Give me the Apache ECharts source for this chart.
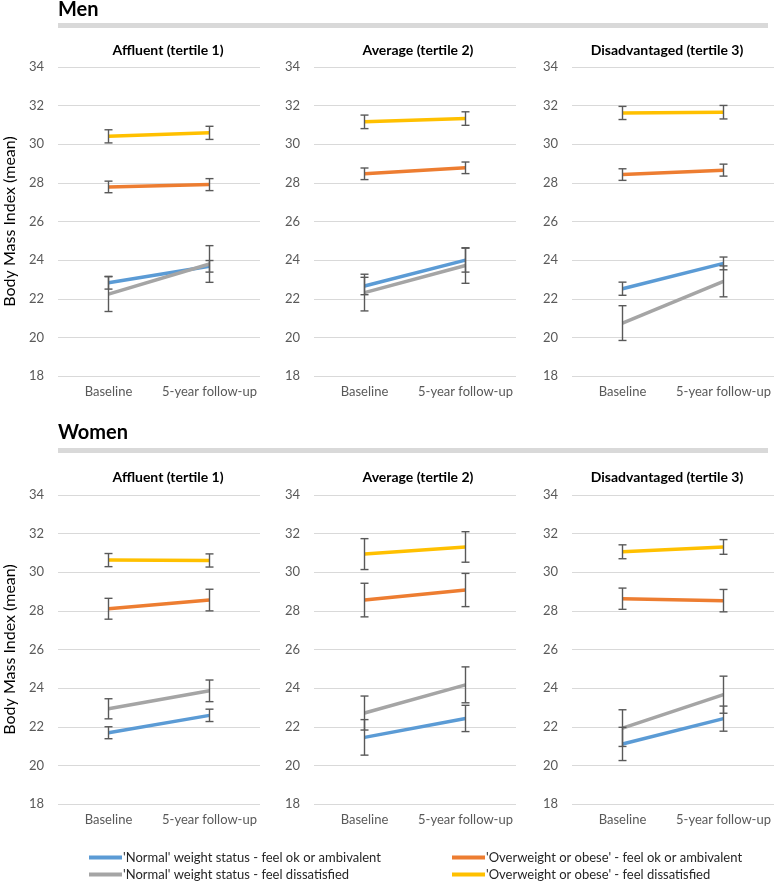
<!DOCTYPE html>
<html>
<head>
<meta charset="utf-8">
<script src="https://cdn.jsdelivr.net/npm/echarts@6/dist/echarts.min.js"></script>
<style>
  html, body { margin: 0; padding: 0; background: #fff; }
  #chart { width: 778px; height: 885px; }
</style>
</head>
<body>
<div id="chart"></div>
<script>
// ---- Data ----
const categories = ['Baseline', '5-year follow-up'];
const panelTitles = ['Affluent (tertile 1)', 'Average (tertile 2)', 'Disadvantaged (tertile 3)'];
const rowTitles = ['Men', 'Women'];
const seriesNames = [
  "'Normal' weight status - feel ok or ambivalent",
  "'Normal' weight status - feel dissatisfied",
  "'Overweight or obese' - feel ok or ambivalent",
  "'Overweight or obese' - feel dissatisfied"
];
const yTicks = [18, 20, 22, 24, 26, 28, 30, 32, 34];

// Men: per panel [baseline, follow-up]
const menNormalOk      = [[22.83, 23.68], [22.66, 24.00], [22.52, 23.83]];
const menNormalOkErr   = [[0.33, 0.30], [0.45, 0.62], [0.34, 0.33]];
const menNormalDis     = [[22.24, 23.80], [22.32, 23.72], [20.74, 22.90]];
const menNormalDisErr  = [[0.90, 0.95], [0.95, 0.92], [0.90, 0.80]];
const menOverOk        = [[27.79, 27.91], [28.47, 28.78], [28.43, 28.66]];
const menOverOkErr     = [[0.30, 0.31], [0.30, 0.30], [0.30, 0.31]];
const menOverDis       = [[30.41, 30.59], [31.16, 31.33], [31.62, 31.66]];
const menOverDisErr    = [[0.34, 0.34], [0.35, 0.35], [0.34, 0.35]];

// Women
const womenNormalOk     = [[21.69, 22.59], [21.45, 22.43], [21.11, 22.42]];
const womenNormalOkErr  = [[0.31, 0.32], [0.92, 0.68], [0.86, 0.65]];
const womenNormalDis    = [[22.93, 23.86], [22.71, 24.17], [21.93, 23.66]];
const womenNormalDisErr = [[0.52, 0.56], [0.88, 0.93], [0.95, 0.96]];
const womenOverOk       = [[28.11, 28.56], [28.56, 29.08], [28.63, 28.53]];
const womenOverOkErr    = [[0.54, 0.56], [0.87, 0.86], [0.55, 0.58]];
const womenOverDis      = [[30.63, 30.61], [30.94, 31.31], [31.06, 31.31]];
const womenOverDisErr   = [[0.34, 0.34], [0.80, 0.79], [0.36, 0.38]];

// ---- Layout / style ----
const colors = ['#5B9BD5', '#A5A5A5', '#ED7D31', '#FFC000'];
const FONT = 'Lato, "Open Sans", sans-serif';
const gridLefts = [58, 314, 572];
const gridWidth = 202;
const rowTops = [67, 495];
const gridHeight = 309;
const subtitleCenters = [168, 418, 667];

const rows = [
  { vals: [menNormalOk, menNormalDis, menOverOk, menOverDis],
    errs: [menNormalOkErr, menNormalDisErr, menOverOkErr, menOverDisErr] },
  { vals: [womenNormalOk, womenNormalDis, womenOverOk, womenOverDis],
    errs: [womenNormalOkErr, womenNormalDisErr, womenOverOkErr, womenOverDisErr] }
];

const grids = [], xAxes = [], yAxes = [], series = [], graphics = [];

function errorBarRender(params, api) {
  const xi = api.value(0);
  const lo = api.coord([xi, api.value(1)]);
  const hi = api.coord([xi, api.value(2)]);
  const cap = 4;
  const st = { stroke: '#595959', lineWidth: 1.4 };
  return {
    type: 'group',
    children: [
      { type: 'line', shape: { x1: lo[0], y1: lo[1], x2: hi[0], y2: hi[1] }, style: st },
      { type: 'line', shape: { x1: lo[0] - cap, y1: lo[1], x2: lo[0] + cap, y2: lo[1] }, style: st },
      { type: 'line', shape: { x1: hi[0] - cap, y1: hi[1], x2: hi[0] + cap, y2: hi[1] }, style: st }
    ]
  };
}

let gi = 0;
rows.forEach((row, r) => {
  graphics.push({
    type: 'text', left: 58, top: r === 0 ? 0 : 423,
    style: { text: rowTitles[r], font: 'bold 20px ' + FONT, fill: '#000' }
  });
  graphics.push({
    type: 'rect', shape: { x: 58, y: r === 0 ? 23 : 448, width: 710, height: 5 },
    style: { fill: '#d9d9d9' }
  });
  for (let p = 0; p < 3; p++) {
    graphics.push({
      type: 'text', x: subtitleCenters[p], y: r === 0 ? 50 : 477,
      style: { text: panelTitles[p], font: 'bold 14px ' + FONT, fill: '#000',
               align: 'center', verticalAlign: 'middle', textAlign: 'center', textVerticalAlign: 'middle' }
    });
    grids.push({ left: gridLefts[p], top: rowTops[r], width: gridWidth, height: gridHeight });
    xAxes.push({
      type: 'category', gridIndex: gi, data: categories, boundaryGap: true,
      axisLine: { show: false }, axisTick: { show: false },
      axisLabel: { color: '#595959', fontSize: 13, fontFamily: FONT, margin: 9, interval: 0 }
    });
    yAxes.push({
      type: 'value', gridIndex: gi, min: yTicks[0], max: yTicks[yTicks.length - 1], interval: 2,
      axisLine: { show: false }, axisTick: { show: false },
      axisLabel: { color: '#595959', fontSize: 13, fontFamily: FONT, margin: 14 },
      splitLine: { show: true, lineStyle: { color: '#d9d9d9', width: 1 } },
      name: p === 0 ? 'Body Mass Index (mean)' : '',
      nameLocation: 'middle', nameGap: 40, nameRotate: 90,
      nameTextStyle: { color: '#000', fontSize: 16, fontFamily: FONT }
    });
    for (let s = 0; s < 4; s++) {
      series.push({
        type: 'line', name: seriesNames[s], xAxisIndex: gi, yAxisIndex: gi,
        data: row.vals[s][p], symbol: 'none', color: colors[s],
        lineStyle: { width: 3.5, color: colors[s] }, z: 2, silent: true
      });
      const eb = row.vals[s][p].map((v, i) => [i, v - row.errs[s][p][i], v + row.errs[s][p][i]]);
      series.push({
        type: 'custom', xAxisIndex: gi, yAxisIndex: gi, data: eb,
        renderItem: errorBarRender, z: 3, silent: true,
        encode: { x: 0, y: [1, 2] }
      });
    }
    gi++;
  }
});

const legendCommon = {
  top: 851, orient: 'vertical', padding: 0, height: 40,
  itemGap: 4, itemWidth: 33, itemHeight: 4, icon: 'rect', selectedMode: false,
  textStyle: { color: '#262626', fontSize: 13, fontFamily: FONT, lineHeight: 13, padding: [0, 0, 0, -4] }
};

const chart = echarts.init(document.getElementById('chart'), null, { renderer: 'canvas' });
chart.setOption({
  animation: false,
  backgroundColor: '#fff',
  grid: grids,
  xAxis: xAxes,
  yAxis: yAxes,
  series: series,
  graphic: graphics,
  legend: [
    Object.assign({ data: [seriesNames[0], seriesNames[1]], left: 89 }, legendCommon),
    Object.assign({ data: [seriesNames[2], seriesNames[3]], left: 452 }, legendCommon)
  ]
});
</script>
</body>
</html>
